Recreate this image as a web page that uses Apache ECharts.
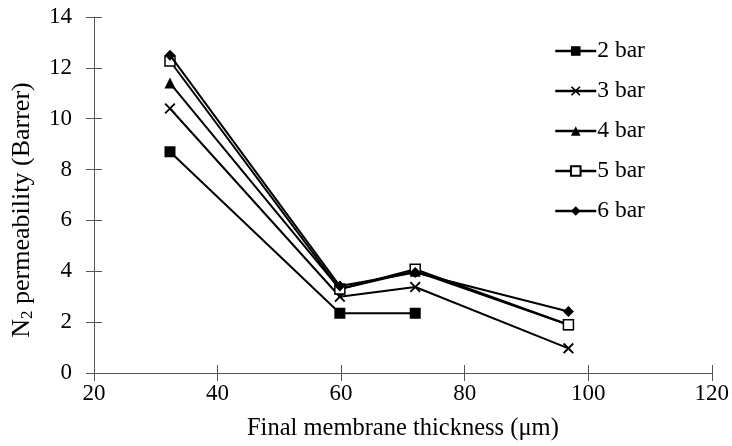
<!DOCTYPE html>
<html>
<head>
<meta charset="utf-8">
<script src="https://cdn.jsdelivr.net/npm/echarts@6/dist/echarts.min.js"></script>
<style>html,body{margin:0;padding:0;background:#fff}#c{width:732px;height:446px}</style>
</head>
<body>
<div id="c"></div>
<script>
// Data
const thickness = [32.3, 59.8, 72, 96.8];
const seriesNames = ['2 bar', '3 bar', '4 bar', '5 bar', '6 bar'];
const bar2 = [8.7, 2.35, 2.35, null];
const bar3 = [10.4, 3.0, 3.38, 0.97];
const bar4 = [11.4, 3.3, 4.0, 1.9];
const bar5 = [12.27, 3.3, 4.08, 1.9];
const bar6 = [12.5, 3.42, 3.95, 2.42];
const xTicks = [20, 40, 60, 80, 100, 120];
const yTicks = [0, 2, 4, 6, 8, 10, 12, 14];

const FONT = 'Liberation Serif';
const xPath = 'path://M0,1.2L1.2,0L5,3.8L8.8,0L10,1.2L6.2,5L10,8.8L8.8,10L5,6.2L1.2,10L0,8.8L3.8,5Z';

function pairs(vals) {
  const out = [];
  vals.forEach((v, i) => { if (v !== null) out.push([thickness[i], v]); });
  return out;
}

const values = [bar2, bar3, bar4, bar5, bar6];
const symbols = ['rect', xPath, 'triangle', 'rect', 'diamond'];
const sizes = [11, 11, 11, 10, 11];

const series = values.map((vals, i) => ({
  name: seriesNames[i],
  type: 'line',
  data: pairs(vals),
  symbol: symbols[i],
  symbolSize: sizes[i],
  showAllSymbol: true,
  lineStyle: { color: '#000', width: 2 },
  itemStyle: i === 3
    ? { color: '#fff', borderColor: '#000', borderWidth: 1.5 }
    : { color: '#000', borderWidth: 0 },
  z: 2 + i,
  animation: false
}));

const chart = echarts.init(document.getElementById('c'));
const axisCol = '#555';
chart.setOption({
  animation: false,
  backgroundColor: '#fff',
  grid: { left: 94, right: 19, top: 17, bottom: 71 },
  legend: {
    orient: 'vertical',
    left: 549,
    top: 34,
    itemWidth: 41,
    itemHeight: 12,
    itemGap: 16,
    lineStyle: { width: 2.5 },
    textStyle: { fontFamily: FONT, fontSize: 23.5, color: '#000', padding: [0, 0, 0, -4] },
    data: seriesNames
  },
  xAxis: [{
    type: 'value',
    min: xTicks[0], max: xTicks[xTicks.length - 1], interval: 20,
    name: 'Final membrane thickness (μm)',
    nameLocation: 'middle',
    nameGap: 43,
    nameTextStyle: { fontFamily: FONT, fontSize: 24.5, color: '#000' },
    axisLine: { lineStyle: { color: axisCol, width: 1 } },
    axisTick: { show: true, inside: false, length: 8, lineStyle: { color: axisCol } },
    axisLabel: { fontFamily: FONT, fontSize: 23, color: '#000', margin: 9 },
    splitLine: { show: false }
  }, {
    type: 'value', position: 'bottom',
    min: xTicks[0], max: xTicks[xTicks.length - 1], interval: 20,
    axisLine: { show: false },
    axisTick: { show: true, inside: true, length: 8, lineStyle: { color: axisCol } },
    axisLabel: { show: false },
    splitLine: { show: false }
  }],
  yAxis: [{
    type: 'value',
    min: yTicks[0], max: yTicks[yTicks.length - 1], interval: 2,
    name: '{a|N}{s|2}{a| permeability (Barrer)}',
    nameLocation: 'middle',
    nameRotate: 90,
    nameGap: 58,
    nameTextStyle: {
      fontFamily: FONT, fontSize: 26, color: '#000',
      padding: [0, 30, 0, 0],
      rich: {
        a: { fontFamily: FONT, fontSize: 26, color: '#000' },
        s: { fontFamily: FONT, fontSize: 17, color: '#000', padding: [11, 0, 0, 0] }
      }
    },
    axisLine: { show: true, lineStyle: { color: axisCol, width: 1 } },
    axisTick: { show: true, inside: false, length: 8, lineStyle: { color: axisCol } },
    axisLabel: { fontFamily: FONT, fontSize: 23, color: '#000', margin: 22 },
    splitLine: { show: false }
  }, {
    type: 'value', position: 'left',
    min: yTicks[0], max: yTicks[yTicks.length - 1], interval: 2,
    axisLine: { show: false },
    axisTick: { show: true, inside: true, length: 8, lineStyle: { color: axisCol } },
    axisLabel: { show: false },
    splitLine: { show: false }
  }],
  series: series
});
</script>
</body>
</html>
